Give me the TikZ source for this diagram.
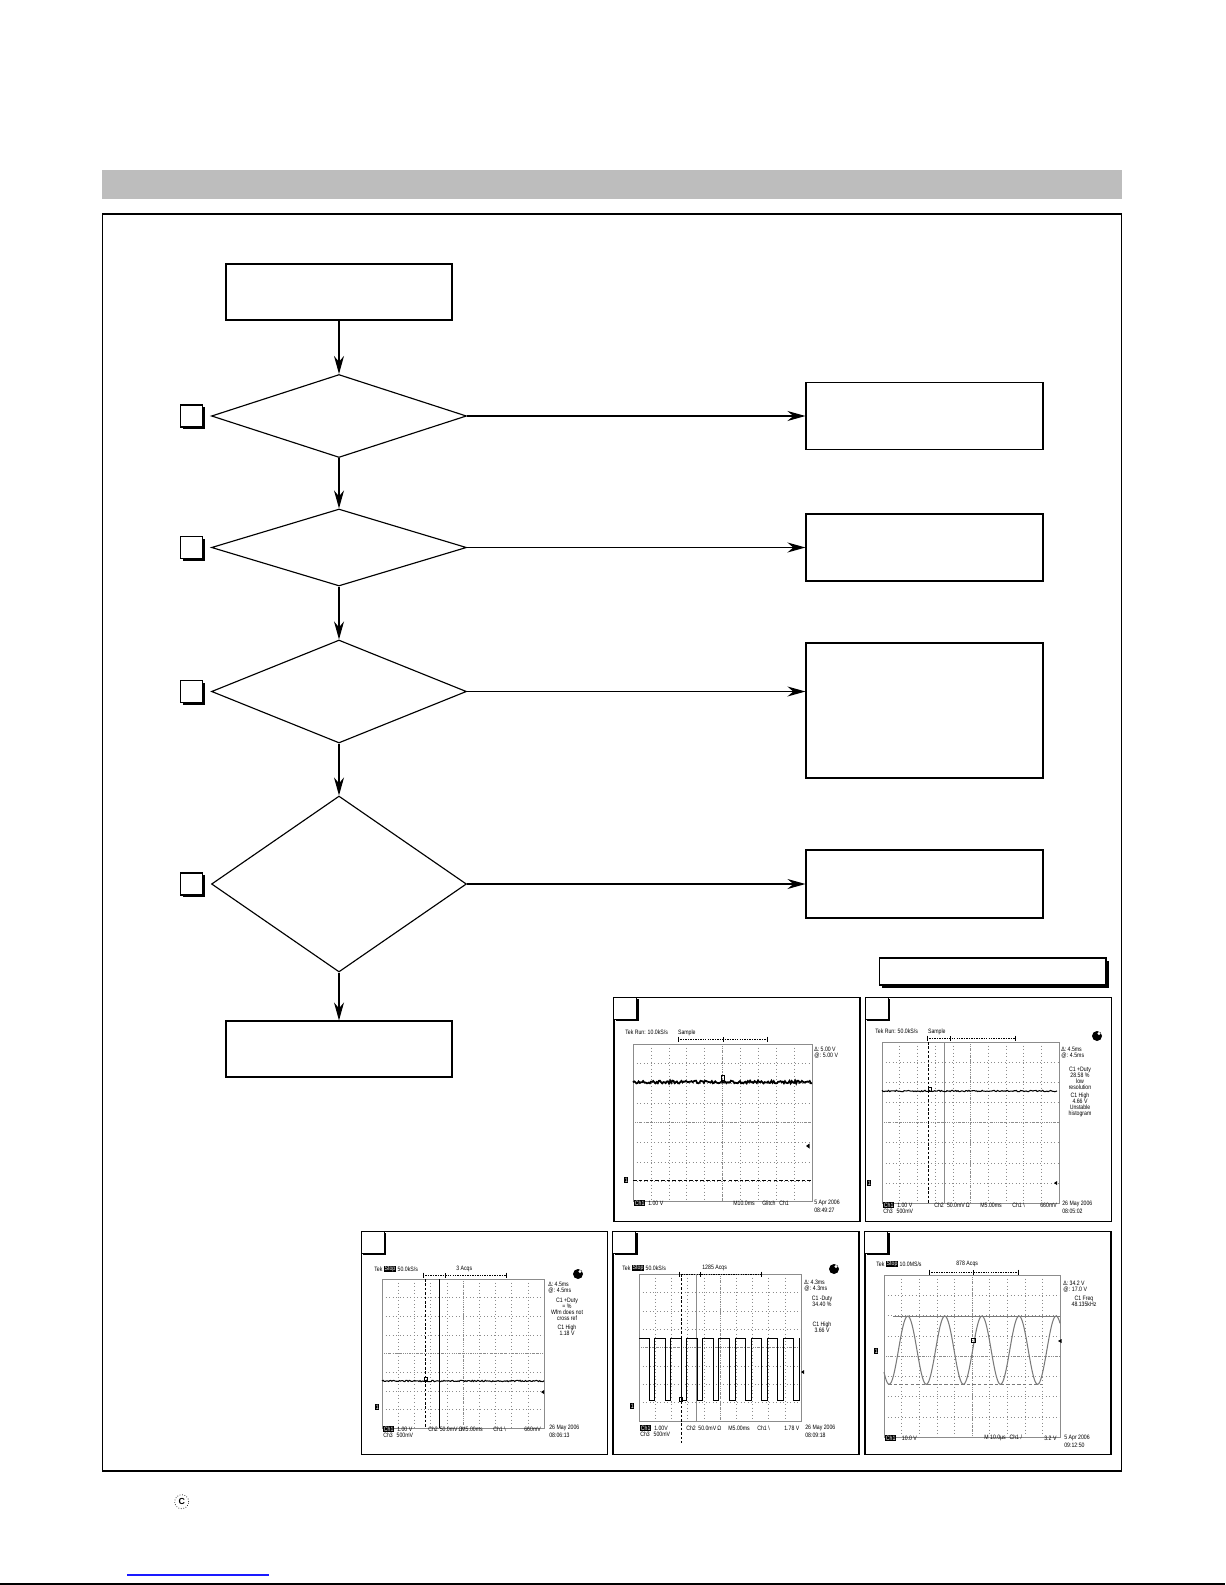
\documentclass[tikz,border=0pt]{standalone}
\usepackage{fontspec}
\setsansfont{Liberation Sans}
\newfontfamily\scopesans{Liberation Sans}[FakeStretch=0.82]
\usetikzlibrary{shapes.geometric, arrows.meta, shadows, positioning, calc}
\definecolor{BarGray}{HTML}{BDBDBD}
\definecolor{GridGray}{HTML}{8C8C8C}
\definecolor{WaveGray}{HTML}{7A7A7A}
\definecolor{LinkBlue}{HTML}{1A1AFF}
\newcommand{\scopefont}{\fontsize{3.6}{3.4}\selectfont\scopesans}
\tikzset{
  box/.style={rectangle, draw, line width=0.65pt, minimum width=4.52cm,
    minimum height=1.12cm, inner sep=0pt},
  decision/.style={diamond, draw, line width=0.65pt, minimum width=5.1cm, inner sep=0pt},
  result/.style={rectangle, draw, line width=0.65pt, minimum width=4.74cm, inner sep=0pt},
  tag/.style={rectangle, draw, fill=white, line width=0.6pt, minimum size=0.44cm, inner sep=0pt,
    drop shadow={shadow xshift=0.045cm, shadow yshift=-0.045cm, fill=black, opacity=1}},
  flow/.style={-{Stealth[length=3.6mm, width=2mm]}, line width=0.65pt},
  panel/.style={rectangle, draw, line width=0.7pt, minimum width=4.92cm,
    minimum height=4.47cm, inner sep=0pt},
  corner/.style={rectangle, draw, fill=white, line width=0.5pt, minimum width=0.46cm,
    minimum height=0.44cm, inner sep=0pt,
    drop shadow={shadow xshift=0.035cm, shadow yshift=-0.035cm, fill=black, opacity=1}},
  scopetxt/.style={font=\scopefont, inner sep=0pt, anchor=west},
  scopemid/.style={font=\scopefont, inner sep=0pt, anchor=north, align=center},
  inv/.style={font=\scopefont, inner sep=0.3pt, anchor=west, fill=black, text=white},
  gridline/.style={GridGray, line width=0.25pt, dash pattern=on 0.4pt off 1.6pt},
  gridaxis/.style={GridGray, line width=0.3pt, dash pattern=on 0.4pt off 0.8pt},
  gridframe/.style={GridGray, line width=0.4pt},
  trace/.style={black, line width=0.6pt},
  cursor/.style={black, line width=0.4pt, dash pattern=on 1.5pt off 1pt},
}
% graticule: x1 y1 x2 y2
\newcommand{\scopegrid}[4]{%
  \foreach \k in {1,...,9}{\draw[gridline] ({#1+\k*(#3-#1)/10},#2) -- ({#1+\k*(#3-#1)/10},#4);}
  \foreach \k in {1,...,7}{\draw[gridline] (#1,{#2+\k*(#4-#2)/8}) -- (#3,{#2+\k*(#4-#2)/8});}
  \draw[gridaxis] ({(#1+#3)/2},#2) -- ({(#1+#3)/2},#4);
  \draw[gridaxis] (#1,{(#2+#4)/2}) -- (#3,{(#2+#4)/2});
  \draw[gridframe] (#1,#2) rectangle (#3,#4);
}
% trigger bar: y xa xb xtick
\newcommand{\trigbar}[4]{%
  \draw[line width=0.3pt, dash pattern=on 0.8pt off 0.6pt] (#2,#1) -- (#3,#1);
  \draw[line width=0.35pt] (#2,{#1-2.5}) -- (#2,{#1+2.5}) (#3,{#1-2.5}) -- (#3,{#1+2.5})
    (#4,{#1-2}) -- (#4,{#1+2.5});
}

\begin{document}
\begin{tikzpicture}[x=0.02cm, y=-0.02cm]
  \useasboundingbox (0,0) rectangle (1225,1585);
  \pgfmathsetseed{7}

  % Header bar and frame
  \fill[BarGray] (102,170) rectangle (1122,199);
  \draw[line width=0.8pt] (102.5,214) rectangle (1121.5,1471);

  % Flow
  \node[box] (start) at (339,292) {};
  \node[decision, minimum height=1.66cm] (q1) at (339,416) {};
  \node[decision, minimum height=1.54cm] (q2) at (339,547.5) {};
  \node[decision, minimum height=2.06cm] (q3) at (339,691.5) {};
  \node[decision, minimum height=3.52cm] (q4) at (339,884) {};
  \node[box] (done) at (339,1049) {};

  \node[tag, left=0.15cm of q1] (t1) {};
  \node[tag, left=0.15cm of q2] (t2) {};
  \node[tag, left=0.15cm of q3] (t3) {};
  \node[tag, left=0.15cm of q4] (t4) {};

  % Results
  \node[result, minimum height=1.34cm] (r1) at (924.5,416) {};
  \node[result, minimum height=1.34cm] (r2) at (924.5,547.5) {};
  \node[result, minimum height=2.7cm]  (r3) at (924.5,710.5) {};
  \node[result, minimum height=1.36cm] (r4) at (924.5,884) {};

  \draw[flow] (start) -- (q1);
  \draw[flow] (q1) -- (q2);
  \draw[flow] (q2) -- (q3);
  \draw[flow] (q3) -- (q4);
  \draw[flow] (q4) -- (done);
  \draw[flow] (q1) -- (r1);
  \draw[flow] (q2) -- (r2);
  \draw[flow] (q3.east) -- (q3.east -| r3.west);
  \draw[flow] (q4) -- (r4);

  % Legend box
  \node[rectangle, draw, fill=white, line width=0.6pt, minimum width=4.54cm, minimum height=0.54cm,
    drop shadow={shadow xshift=0.06cm, shadow yshift=-0.06cm, fill=black, opacity=1}]
    (legend) at (992.5,971.5) {};

  % Scope A
  \node[panel] (scopeA) at (737,1109.5) {};
  \node[corner, anchor=north west] (cA) at (scopeA.north west) {};
  \scopegrid{633}{1044}{812}{1201}
  \trigbar{1039}{678}{767}{723}
  \draw[trace, line width=1pt] plot[domain=633:812, samples=160, variable=\t] (\t,{1082+1.4*rand});
  \draw[line width=0.4pt] (721.5,1075) rectangle (724.5,1080);
  \draw[line width=0.4pt, dash pattern=on 2pt off 1.2pt] (633,1180) -- (812,1180);
  \fill (806,1146) -- (809.5,1143.5) -- (809.5,1148.5) -- cycle;
  \node[inv] (gA) at (624,1180) {1};
  \node[scopetxt] (hA) at (625,1033) {Tek Run: 10.0kS/s\hspace{1.6em}Sample};
  \node[scopetxt, align=left, anchor=north west] (mA) at (814,1047) {Δ: 5.00 V\\@: 5.00 V};
  \node[inv] (chA) at (634,1203) {Ch1};
  \node[scopetxt, right=1.5pt of chA] (vA) {1.00 V};
  \node[scopetxt] (tA) at (733,1203) {M10.0ms\hspace{1.2em}Glitch\hspace{0.6em}Ch1};
  \node[scopetxt, align=left, anchor=north west] (dA) at (814,1200) {5 Apr 2006\\[1pt]08:49:27};

  % Scope B
  \node[panel] (scopeB) at (988.5,1109.5) {};
  \node[corner, anchor=north west] (cB) at (scopeB.north west) {};
  \scopegrid{882}{1042}{1059}{1203}
  \trigbar{1038}{927}{1015}{950}
  \draw[cursor] (928.7,1042) -- (928.7,1203);
  \draw[GridGray, line width=0.5pt] (944.7,1042) -- (944.7,1203);
  \draw[trace] plot[domain=882:1057, samples=160, variable=\t] (\t,{1091+0.7*rand});
  \draw[line width=0.4pt] (928,1087) rectangle (931,1091);
  \fill (1054,1183) -- (1057,1181) -- (1057,1185) -- cycle;
  \node[inv] (gB) at (867,1183) {1};
  \fill (1097,1036) circle (5);
  \fill[white] (1099,1033.5) circle (1.6);
  \node[scopetxt] (hB) at (875,1032) {Tek Run: 50.0kS/s\hspace{1.6em}Sample};
  \node[scopetxt, align=left, anchor=north west] (mB) at (1061,1047) {Δ: 4.5ms\\@: 4.5ms};
  \node[scopemid] (kB) at (1080,1067) {C1 +Duty\\28.58 \%\\low\\resolution};
  \node[scopemid] (hiB) at (1080,1093) {C1 High\\4.66 V\\Unstable\\histogram};
  \node[inv] (chB) at (883,1205) {Ch1};
  \node[scopetxt, right=1.5pt of chB] (vB) {1.00 V};
  \node[scopetxt] (wB) at (934,1205) {Ch2\hspace{0.5em}50.0mV\,Ω};
  \node[scopetxt] (tB) at (980,1205) {M5.00ms};
  \node[scopetxt] (sB) at (1012,1205) {Ch1 \textbackslash};
  \node[scopetxt] (lB) at (1040,1205) {660mV};
  \node[scopetxt] (c3B) at (883,1211) {Ch3\hspace{0.6em}500mV};
  \node[scopetxt, align=left, anchor=north west] (dB) at (1062,1201) {26 May 2006\\[1pt]08:05:02};

  % Scope C
  \node[panel] (scopeC) at (484.5,1343) {};
  \node[corner, anchor=north west] (cC) at (scopeC.north west) {};
  \scopegrid{382}{1279}{544}{1428}
  \trigbar{1275}{423}{506}{445}
  \draw[cursor] (425.7,1279) -- (425.7,1428);
  \draw[black, line width=0.5pt] (439.7,1279) -- (439.7,1428);
  \draw[trace] plot[domain=382:544, samples=150, variable=\t] (\t,{1381+0.7*rand});
  \draw[line width=0.4pt] (424,1377) rectangle (427,1381);
  \fill (541,1392) -- (544,1390) -- (544,1394) -- cycle;
  \node[inv] (gC) at (375,1407) {1};
  \fill (578,1274) circle (5);
  \fill[white] (580,1271.5) circle (1.6);
  \node[scopetxt] (hC) at (374,1269) {Tek};
  \node[inv, right=0.6pt of hC] (sC) {Stop};
  \node[scopetxt, right=0.6pt of sC] (rC) {50.0kS/s};
  \node[scopetxt] (aC) at (456,1269) {3 Acqs};
  \node[scopetxt, align=left, anchor=north west] (mC) at (548,1282) {Δ: 4.5ms\\@: 4.5ms};
  \node[scopemid] (kC) at (567,1298) {C1 +Duty\\= \%\\Wfm does not\\cross ref};
  \node[scopemid] (hiC) at (567,1325) {C1 High\\1.18 V};
  \node[inv] (chC) at (383,1429) {Ch1};
  \node[scopetxt, right=1.5pt of chC] (vC) {1.00 V};
  \node[scopetxt] (wC) at (428,1429) {Ch2\hspace{0.3em}50.0mV\,Ω};
  \node[scopetxt] (tC) at (461,1429) {M5.00ms};
  \node[scopetxt] (sC2) at (493,1429) {Ch1 \textbackslash};
  \node[scopetxt] (lC) at (524,1429) {660mV};
  \node[scopetxt] (c3C) at (383,1435) {Ch3\hspace{0.6em}500mV};
  \node[scopetxt, align=left, anchor=north west] (dC) at (549,1425) {26 May 2006\\[1pt]08:06:13};

  % Scope D
  \node[panel] (scopeD) at (736,1343) {};
  \node[corner, anchor=north west] (cD) at (scopeD.north west) {};
  \scopegrid{639}{1274}{801}{1421}
  \trigbar{1274}{679}{761}{700}
  \draw[cursor] (681.3,1274) -- (681.3,1443);
  \draw[GridGray, line width=0.5pt] (696.3,1274) -- (696.3,1421);
  \draw[trace, line width=0.55pt] (639,1338)
    \foreach \k in {0,...,9}{ -- ({649+\k*16.1},1338) -- ({649+\k*16.1},1400)
      -- ({654.5+\k*16.1},1400) -- ({654.5+\k*16.1},1338)};
  \draw[line width=0.4pt] (679.5,1397) rectangle (682.5,1401);
  \fill (801,1372) -- (804,1370) -- (804,1374) -- cycle;
  \node[inv] (gD) at (630,1406) {1};
  \fill (834,1269) circle (5);
  \fill[white] (836,1266.5) circle (1.6);
  \node[scopetxt] (hD) at (622,1268) {Tek};
  \node[inv, right=0.6pt of hD] (sD) {Stop};
  \node[scopetxt, right=0.6pt of sD] (rD) {50.0kS/s};
  \node[scopetxt] (aD) at (702,1268) {1285 Acqs};
  \node[scopetxt, align=left, anchor=north west] (mD) at (804,1280) {Δ: 4.3ms\\@: 4.3ms};
  \node[scopemid] (kD) at (822,1296) {C1 -Duty\\34.40 \%};
  \node[scopemid] (hiD) at (822,1322) {C1 High\\3.66 V};
  \node[inv] (chD) at (640,1428) {Ch1};
  \node[scopetxt, right=1.5pt of chD] (vD) {1.00V};
  \node[scopetxt] (wD) at (686,1428) {Ch2\hspace{0.4em}50.0mV\,Ω};
  \node[scopetxt] (tD) at (728,1428) {M5.00ms};
  \node[scopetxt] (sD2) at (757,1428) {Ch1 \textbackslash};
  \node[scopetxt] (lD) at (784,1428) {1.78 V};
  \node[scopetxt] (c3D) at (640,1434) {Ch3\hspace{0.6em}500mV};
  \node[scopetxt, align=left, anchor=north west] (dD) at (805,1425) {26 May 2006\\[1pt]08:09:18};

  % Scope E
  \node[panel] (scopeE) at (988,1343) {};
  \node[corner, anchor=north west] (cE) at (scopeE.north west) {};
  \scopegrid{884}{1275}{1060}{1437}
  \trigbar{1272}{929}{1018}{973}
  \draw[WaveGray, line width=0.5pt] (893,1316) -- (1060,1316);
  \draw[WaveGray, line width=0.6pt, dash pattern=on 2pt off 1.2pt] (888,1384.3) -- (1044,1384.3);
  \draw[WaveGray, line width=0.6pt] plot[domain=884:1060, samples=220, variable=\t]
    (\t,{1350.15-34.15*cos((\t-907.7)/37.1*360)});
  \draw[line width=0.5pt] (971,1338) rectangle (975,1342.5);
  \fill (1058,1341) -- (1061.5,1339) -- (1061.5,1343) -- cycle;
  \node[inv] (gE) at (874,1351) {1};
  \node[scopetxt] (hE) at (876,1264) {Tek};
  \node[inv, right=0.6pt of hE] (sE) {Stop};
  \node[scopetxt, right=0.6pt of sE] (rE) {10.0MS/s};
  \node[scopetxt] (aE) at (956,1264) {878 Acqs};
  \node[scopetxt, align=left, anchor=north west] (mE) at (1063,1281) {Δ: 34.2 V\\@: 17.0 V};
  \node[scopemid] (kE) at (1084,1296) {C1 Freq\\48.135kHz};
  \node[inv] (chE) at (885,1438) {Ch1};
  \node[scopetxt, right=3pt of chE] (vE) {10.0 V};
  \node[scopetxt] (tE) at (984,1438) {M 10.0µs\hspace{0.6em}Ch1 /};
  \node[scopetxt] (lE) at (1044,1438) {3.2 V};
  \node[scopetxt, align=left, anchor=north west] (dE) at (1064,1435) {5 Apr 2006\\[1pt]09:12:50};

  % Footer
  \node[circle, draw, densely dotted, line width=0.4pt, minimum size=0.28cm, inner sep=0pt,
    font=\fontsize{5}{5}\selectfont\sffamily\bfseries] (copy) at (181.7,1501.7) {C};
  \draw[LinkBlue, line width=0.6pt] (127,1575) -- (269,1575);
  \draw[line width=1.1pt] (0,1584) -- (1225,1584);
\end{tikzpicture}
\end{document}
